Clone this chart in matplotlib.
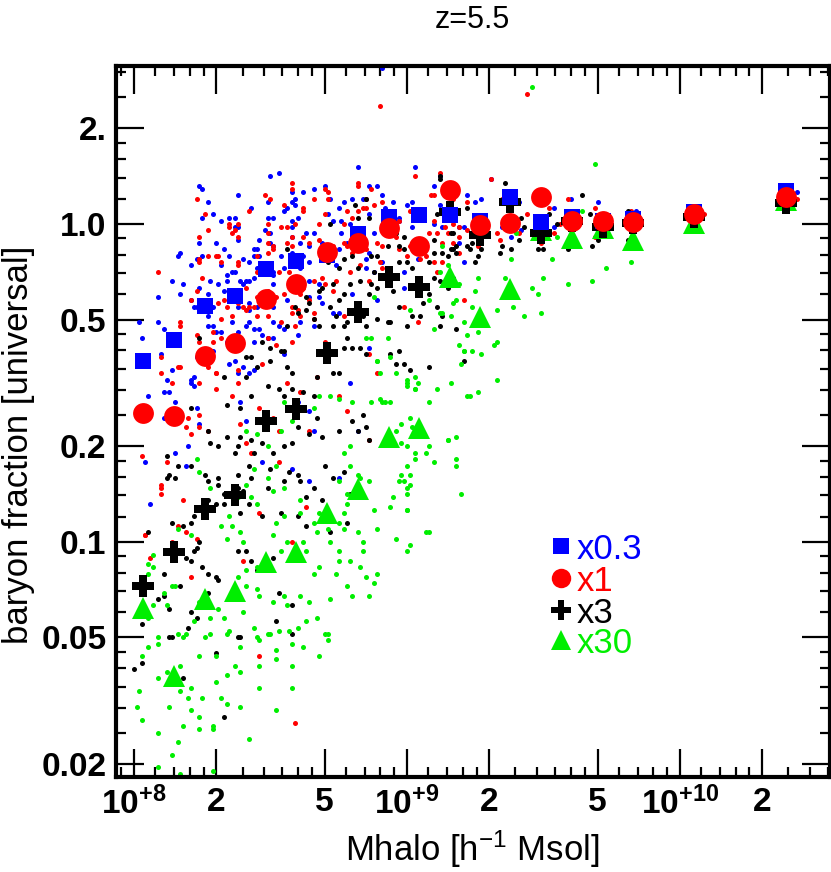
import numpy as np
import matplotlib
matplotlib.use("Agg")
import matplotlib.pyplot as plt
from matplotlib.ticker import FixedLocator, FixedFormatter, NullFormatter

FONT = "Liberation Sans"
plt.rcParams["font.family"] = [FONT, "DejaVu Sans"]
plt.rcParams["mathtext.fontset"] = "custom"
plt.rcParams["mathtext.rm"] = FONT
plt.rcParams["mathtext.bf"] = FONT + ":bold"
plt.rcParams["mathtext.it"] = FONT + ":italic"

# binned medians, shared halo-mass bins [h^-1 Msol]
mbin = [1.08e8, 1.40e8, 1.82e8, 2.34e8, 3.04e8, 3.94e8, 5.11e8, 6.62e8, 8.59e8,
        1.11e9, 1.44e9, 1.85e9, 2.38e9, 3.11e9, 4.03e9, 5.21e9, 6.71e9, 1.13e10, 2.44e10]
f_x03 = [0.371, 0.430, 0.553, 0.595, 0.722, 0.767, 0.799, 0.930, 1.054, 1.067,
         1.067, 1.022, 1.213, 1.012, 1.050, 1.022, 1.035, 1.093, 1.27]
f_x1 = [0.255, 0.248, 0.385, 0.421, 0.581, 0.646, 0.818, 0.870, 0.969, 0.855,
        1.279, 0.993, 1.005, 1.213, 1.024, 1.022, 1.017, 1.075, 1.213]
f_x3 = [0.0724, 0.0928, 0.1267, 0.1405, 0.2406, 0.262, 0.392, 0.528, 0.683, 0.635,
        1.093, 0.924, 1.175, 0.935, 1.020, 0.981, 1.005, 1.054, 1.162]
f_x30 = [0.0621, 0.0379, 0.0662, 0.0701, 0.0867, 0.0927, 0.1231, 0.1468, 0.2143, 0.2278,
         0.680, 0.511, 0.623, 0.957, 0.902, 0.969, 0.891, 1.005, 1.19]

# individual haloes: log10(Mhalo), log10(baryon fraction)
blue_logm = [8.24, 8.27, 8.38, 8.50, 8.53, 8.43, 8.29, 8.32, 8.37, 8.37, 8.24, 8.30, 8.17, 8.16,
             8.14, 8.21, 8.09, 8.02, 8.03, 8.11, 8.24, 8.28, 8.27, 8.34, 8.37, 8.40, 8.44, 8.40,
             8.51, 8.51, 8.50, 8.51, 8.49, 8.56, 8.58, 8.59, 8.62, 8.66, 8.72, 8.75, 8.66, 8.64,
             8.69, 8.61, 8.58, 8.54, 8.61, 8.64, 8.68, 8.58, 8.56, 8.51, 8.45, 8.42, 8.46, 8.41,
             8.36, 8.32, 8.38, 8.82, 8.76, 8.78, 8.81, 8.83, 8.91, 8.92, 8.92, 8.97, 9.03, 9.10,
             9.12, 9.10, 9.13, 9.19, 8.85, 8.88, 8.99, 8.99, 8.91, 8.68, 8.75, 8.80, 8.53, 8.61,
             8.66, 8.05, 8.11, 8.13, 8.21, 8.23, 8.37, 8.38, 8.41, 8.42, 8.47, 8.20, 8.15, 8.19,
             8.06, 8.04, 8.64, 8.60, 8.66, 8.58, 8.64, 8.75, 8.82, 8.79, 8.86, 8.55, 8.34, 9.31,
             9.60, 9.70, 9.84, 10.43, 9.22, 9.27, 9.41, 9.54, 9.19, 9.21, 9.35, 9.38, 9.42, 9.54,
             9.21, 9.25, 9.49, 8.91, 8.11, 8.15, 8.22, 8.24, 8.39, 8.58,
             8.70, 8.77, 8.80, 8.84, 8.86, 8.89, 8.95, 9.00, 9.02, 9.12, 8.60, 8.63, 8.71, 8.73,
             8.76, 8.79, 8.86, 8.88, 8.86, 8.97, 9.02, 8.62, 8.64, 8.74, 8.75, 8.85, 9.04, 8.64,
             8.69, 8.73, 8.89, 8.25, 8.49, 8.55, 8.58, 8.59, 8.25, 8.35, 8.38, 8.38, 8.46, 8.51,
             8.50, 8.48, 8.58, 8.58, 8.58, 8.33, 8.23, 8.25, 8.35, 8.42, 8.44, 8.45, 8.44, 8.46,
             8.32, 8.36, 8.18, 8.17, 8.31, 8.33, 8.34, 8.35, 8.39, 8.41, 8.42, 8.45, 8.51, 8.55,
             8.22, 8.21, 8.23, 8.29, 8.24, 8.27, 8.38, 8.42, 8.42, 8.44, 8.47, 8.49, 8.51, 8.55,
             8.60, 8.09, 8.27, 8.29, 8.30, 8.38, 8.44, 8.49, 8.51, 8.10, 8.23, 8.29, 8.35, 8.40,
             8.44, 8.22, 8.21, 8.12, 8.14]
blue_logf = [0.12, 0.07, 0.09, 0.15, 0.16, 0.05, 0.03, 0.01, 0.02, -0.01, -0.06, -0.06, -0.09, -0.10,
             -0.18, -0.13, -0.23, -0.31, -0.36, -0.33, -0.20, -0.18, -0.22, -0.16, -0.15, -0.11, -0.17, -0.19,
             -0.19, -0.15, -0.06, -0.07, 0.02, 0.05, 0.10, 0.06, 0.10, 0.11, 0.08, 0.05, -0.03, -0.07,
             -0.06, -0.06, -0.09, -0.10, -0.14, -0.18, -0.19, -0.17, -0.24, -0.26, -0.26, -0.25, -0.33, -0.32,
             -0.31, -0.34, -0.37, 0.18, -0.03, -0.06, -0.05, -0.07, 0.09, 0.05, 0.00, 0.02, 0.18, 0.12,
             0.06, 0.00, -0.01, -0.06, -0.14, -0.15, -0.20, -0.15, -0.12, -0.23, -0.28, -0.22, -0.32, -0.31,
             -0.32, -0.54, -0.61, -0.53, -0.50, -0.58, -0.43, -0.47, -0.62, -0.47, -0.75, -0.70, -0.72, -0.76,
             -0.88, -0.75, -0.59, -0.56, -0.65, -0.77, -0.81, -0.80, -0.65, -0.50, -0.39, -0.41, -0.37, 0.14,
             0.08, 0.07, 0.04, 0.10, 0.09, 0.08, 0.07, 0.05, -0.01, -0.01, -0.01, -0.04, -0.02, -0.01,
             -0.12, 0.07, -0.05, 0.49, -0.53, -0.56, -0.51, -0.63, -0.56, -0.58,
             0.12, 0.07, 0.08, 0.08, 0.12, 0.12, 0.07, 0.06, 0.07, 0.15, 0.02, -0.03, 0.03, 0.01,
             0.01, 0.00, 0.03, -0.03, -0.09, 0.01, -0.01, -0.10, -0.12, -0.13, -0.08, -0.11, -0.11, -0.23,
             -0.25, -0.28, -0.24, 0.11, 0.07, 0.04, 0.07, 0.08, 0.02, 0.02, -0.01, -0.05, -0.05, 0.02,
             -0.03, -0.02, 0.01, -0.01, -0.04, -0.08, -0.11, -0.10, -0.10, -0.12, -0.08, -0.08, -0.10, -0.10,
             -0.13, -0.15, -0.19, -0.22, -0.19, -0.21, -0.18, -0.23, -0.18, -0.18, -0.18, -0.14, -0.16, -0.14,
             -0.26, -0.24, -0.26, -0.26, -0.27, -0.29, -0.26, -0.27, -0.31, -0.33, -0.35, -0.36, -0.31, -0.33,
             -0.35, -0.31, -0.32, -0.32, -0.34, -0.34, -0.37, -0.36, -0.36, -0.41, -0.42, -0.40, -0.44, -0.45,
             -0.46, -0.48, -0.49, -0.49, -0.46]

red_logm = [8.90, 9.03, 9.12, 9.10, 8.23, 8.26, 8.27, 8.35, 8.38, 8.48, 8.50, 8.58, 8.58, 8.55,
            8.62, 8.62, 8.70, 8.71, 8.71, 8.82, 8.85, 8.84, 8.88, 8.77, 8.78, 8.82, 8.70, 8.68,
            8.49, 8.54, 8.56, 8.58, 8.64, 8.68, 8.51, 8.49, 8.36, 8.38, 8.24, 8.24, 8.30, 8.23,
            8.21, 8.17, 8.09, 8.28, 8.33, 8.38, 8.41, 8.38, 8.42, 8.45, 8.49, 8.54, 8.61, 8.66,
            8.61, 8.64, 8.73, 8.69, 8.78, 8.80, 8.83, 8.91, 8.95, 8.96, 9.01, 9.05, 8.99, 9.09,
            9.15, 9.19, 9.17, 9.10, 8.57, 8.53, 8.45, 8.29, 8.35, 8.24, 8.10, 8.14, 8.17, 8.20,
            8.19, 8.24, 8.21, 8.24, 8.27, 8.30, 8.36, 8.30, 8.38, 8.24, 8.39, 8.41, 8.46, 8.51,
            8.53, 8.56, 8.61, 8.64, 8.43, 8.53, 8.46, 8.18, 8.10, 8.10, 8.03, 8.04, 8.14, 8.16,
            8.19, 8.12, 8.63, 8.58, 8.23, 8.40, 8.21, 8.78, 8.86, 8.89, 8.75, 8.86, 8.67, 8.70,
            9.44, 9.31, 9.59, 9.69, 9.82, 10.09, 10.43, 9.17, 9.22, 9.19, 9.19, 9.14, 9.26, 9.33,
            9.34, 9.41, 9.44, 9.52, 9.54, 9.56, 9.70, 9.69, 9.71, 9.82, 9.59, 9.49, 9.21, 9.35,
            9.40, 9.22, 8.46, 8.59, 8.04, 8.06, 8.10,
            8.82, 8.66, 8.80, 8.85, 8.87, 8.91, 8.94, 8.97, 9.01, 9.08, 9.11, 9.13, 9.17, 8.59,
            8.62, 8.73, 8.77, 8.85, 8.89, 8.90, 8.97, 9.00, 9.07, 9.10, 9.11, 8.62, 8.66, 8.70,
            8.74, 8.79, 8.86, 8.91, 9.13, 8.60, 8.66, 8.77, 9.04,
            8.42, 8.35, 8.37, 8.49, 8.49, 8.51, 8.56, 8.58, 8.58, 8.24, 8.25, 8.27, 8.31, 8.32,
            8.38, 8.45, 8.31, 8.34, 8.36, 8.32, 8.40, 8.41, 8.44, 8.45, 8.49, 8.52, 8.55, 8.58,
            8.60, 8.17, 8.29, 8.23, 8.32, 8.49, 8.52, 8.58, 8.59, 8.58, 8.10, 8.16, 8.27, 8.30,
            8.38, 8.47]
red_logf = [0.37, 0.15, 0.16, 0.09, 0.08, 0.03, -0.02, 0.00, 0.00, 0.09, 0.08, 0.13, 0.11, 0.06,
            0.05, 0.04, 0.11, 0.10, 0.08, 0.12, 0.08, 0.05, 0.06, 0.00, 0.04, 0.04, 0.03, 0.00,
            -0.03, -0.01, -0.06, -0.04, -0.06, -0.05, -0.07, -0.09, -0.03, -0.04, -0.04, -0.11, -0.10, -0.21,
            -0.24, -0.32, -0.15, -0.26, -0.24, -0.12, -0.20, -0.25, -0.26, -0.29, -0.29, -0.31, -0.29, -0.28,
            -0.22, -0.24, -0.21, -0.17, -0.07, -0.09, -0.13, -0.07, -0.01, -0.04, -0.07, -0.11, -0.26, 0.09,
            -0.03, -0.01, 0.00, 0.01, -0.15, -0.15, -0.15, -0.34, -0.37, -0.37, -0.47, -0.50, -0.45, -0.61,
            -0.64, -0.64, -0.66, -0.60, -0.65, -0.52, -0.54, -0.47, -0.50, -0.50, -0.63, -0.69, -0.58, -0.61,
            -0.65, -0.50, -0.53, -0.65, -0.72, -0.75, -0.91, -0.87, -0.83, -0.85, -0.73, -0.98, -1.00, -0.95,
            -0.97, -0.75, -0.89, -1.00, -0.99, -1.06, -1.11, -0.59, -0.41, -0.47, -0.54, -0.68, -0.48, -0.37,
            0.41, 0.14, 0.08, 0.05, 0.04, 0.03, 0.08, 0.08, 0.07, -0.04, -0.09, -0.01, -0.07, -0.03,
            -0.05, -0.03, 0.03, 0.05, -0.03, 0.00, -0.01, -0.04, -0.03, -0.02, -0.06, -0.06, -0.24, 0.08,
            0.07, -0.02, -1.36, -1.57, -0.98, -1.05, -0.82,
            0.13, 0.08, 0.02, 0.05, 0.11, 0.07, 0.02, 0.01, 0.04, -0.03, -0.03, -0.06, -0.06, 0.00,
            -0.04, -0.07, -0.06, -0.08, -0.06, -0.12, -0.08, -0.10, -0.10, -0.12, -0.15, -0.20, -0.18, -0.19,
            -0.18, -0.15, -0.18, -0.14, -0.12, -0.27, -0.30, -0.29, -0.31,
            0.04, -0.01, -0.02, 0.00, -0.06, -0.08, -0.01, -0.07, -0.11, -0.12, -0.17, -0.10, -0.10, -0.12,
            -0.13, -0.10, -0.25, -0.26, -0.29, -0.30, -0.26, -0.27, -0.26, -0.23, -0.21, -0.23, -0.22, -0.26,
            -0.21, -0.31, -0.37, -0.35, -0.36, -0.36, -0.38, -0.37, -0.32, -0.28, -0.42, -0.45, -0.45, -0.47,
            -0.46, -0.44]

black_logm = [9.08, 8.96, 8.99, 9.01, 8.94, 8.83, 8.80, 8.77, 8.75, 8.73, 8.67, 8.58, 8.56, 8.50,
              8.54, 8.45, 8.41, 8.33, 8.34, 8.39, 8.43, 8.49, 8.53, 8.55, 8.58, 8.62, 8.66, 8.67,
              8.75, 8.80, 8.85, 8.82, 8.86, 8.84, 8.69, 8.64, 8.60, 8.58, 8.55, 8.51, 8.47, 8.44,
              8.43, 8.39, 8.38, 8.37, 8.34, 8.31, 8.27, 8.28, 8.21, 8.12, 8.13, 8.15, 8.16, 8.21,
              8.26, 8.27, 8.31, 8.31, 8.33, 8.38, 8.38, 8.42, 8.43, 8.49, 8.50, 8.55, 8.57, 8.60,
              8.63, 8.61, 8.66, 8.69, 8.70, 8.73, 8.77, 8.79, 8.78, 8.72, 8.63, 8.60, 8.54, 8.47,
              8.42, 8.40, 8.39, 8.33, 8.30, 8.27, 8.22, 8.21, 8.18, 8.14, 8.23, 8.24, 8.22, 8.19,
              8.21, 8.25, 8.27, 8.30, 8.31, 8.27, 8.17, 8.11, 8.09, 8.11, 8.21, 8.23, 8.38, 8.41,
              8.43, 8.45, 8.51, 8.53, 8.58, 8.58, 8.39, 8.52, 8.05, 8.03, 8.14, 8.12, 8.13, 8.20,
              8.30, 8.38, 8.03, 8.00, 8.18, 8.33, 8.13, 9.12, 8.85, 8.81, 8.86, 8.72, 8.56, 8.43,
              8.71, 8.75, 8.80, 8.89, 8.93, 8.96, 8.97, 9.00, 9.10, 9.17, 9.17, 9.10, 9.08, 9.02,
              8.97, 8.85, 8.78, 8.78, 8.75, 8.73, 8.68, 8.66, 8.68, 8.63, 8.63, 8.60, 8.56, 8.55,
              8.50, 8.47, 8.41, 8.97, 8.93, 8.89, 8.24, 9.16, 9.11, 9.08, 9.12, 9.15, 9.36, 9.64,
              9.12, 9.13, 9.16, 9.18, 9.22, 9.22, 9.24, 9.25, 9.26, 9.27, 9.23, 9.34, 9.35, 9.38,
              9.41, 9.42, 9.43, 9.48, 9.50, 9.52, 9.55, 9.59, 9.67, 9.68, 9.70, 9.81, 9.81, 9.83,
              9.18, 9.21,
              8.82, 8.91, 8.99, 9.05, 9.10, 9.18, 9.15, 8.87, 8.99, 8.77, 8.82, 8.88, 8.87, 8.97,
              9.02, 9.12, 9.17, 9.06, 9.11, 9.05, 8.95, 8.89, 8.86, 8.83, 8.79, 8.77, 8.69, 8.64,
              8.72, 8.74, 8.82, 8.84, 8.94, 9.00, 9.13, 8.59, 8.73, 8.77, 8.85]
black_logf = [-0.45, -0.44, -0.44, -0.46, -0.41, -0.39, -0.39, -0.39, -0.47, -0.47, -0.48, -0.47, -0.45, -0.43,
              -0.40, -0.45, -0.48, -0.48, -0.57, -0.58, -0.54, -0.51, -0.52, -0.54, -0.52, -0.53, -0.54, -0.61,
              -0.65, -0.62, -0.64, -0.65, -0.68, -0.60, -0.67, -0.66, -0.64, -0.69, -0.70, -0.72, -0.69, -0.72,
              -0.68, -0.67, -0.70, -0.72, -0.67, -0.70, -0.65, -0.69, -0.58, -0.73, -0.79, -0.80, -0.76, -0.76,
              -0.79, -0.81, -0.80, -0.82, -0.85, -0.79, -0.83, -0.76, -0.80, -0.83, -0.77, -0.81, -0.78, -0.79,
              -0.86, -0.81, -0.83, -0.87, -0.76, -0.80, -0.78, -0.85, -0.94, -0.97, -0.95, -0.92, -0.91, -0.92,
              -0.88, -0.84, -0.91, -0.88, -0.88, -0.87, -0.92, -0.94, -0.95, -0.94, -1.02, -1.00, -1.03, -1.05,
              -1.06, -1.08, -1.10, -1.11, -1.12, -1.16, -1.14, -1.10, -1.18, -1.17, -1.22, -1.24, -1.03, -1.03,
              -1.06, -1.09, -1.05, -1.16, -1.20, -1.29, -1.30, -1.25, -0.97, -1.26, -1.30, -0.80, -1.30, -1.27,
              -1.35, -1.30, -1.38, -1.40, -1.43, -1.55, -1.21, 0.14, 0.08, 0.06, 0.02, 0.00, -0.08, -0.42,
              -0.12, -0.14, -0.10, -0.10, -0.07, -0.03, -0.07, -0.12, -0.09, -0.03, -0.08, -0.17, -0.12, -0.29,
              -0.40, -0.41, -0.36, -0.31, -0.24, -0.19, -0.21, -0.30, -0.32, -0.23, -0.27, -0.28, -0.32, -0.40,
              -0.39, -0.37, -0.42, -0.26, -0.31, -0.30, -0.36, -0.03, 0.03, -0.22, -0.32, -0.20, 0.13, 0.09,
              0.15, -0.09, -0.08, -0.07, 0.05, -0.07, -0.06, -0.12, -0.10, -0.08, -0.08, -0.09, -0.07, -0.08,
              -0.05, 0.02, -0.01, -0.08, -0.08, 0.03, 0.00, -0.08, 0.03, -0.07, -0.05, 0.04, -0.05, -0.04,
              -0.33, -0.43,
              0.02, -0.01, -0.04, -0.08, -0.05, -0.09, -0.10, -0.10, -0.08, -0.11, -0.14, -0.15, -0.19, -0.12,
              -0.14, -0.18, -0.17, -0.25, -0.26, -0.29, -0.21, -0.20, -0.22, -0.18, -0.19, -0.22, -0.20, -0.25,
              -0.26, -0.29, -0.26, -0.29, -0.31, -0.32, -0.29, -0.26, -0.32, -0.32, -0.32]

green_logm = [9.16, 9.11, 9.08, 9.03, 9.00, 8.91, 8.94, 8.87, 8.80, 8.72, 8.68, 8.66, 8.55, 8.58,
              8.54, 8.49, 8.41, 8.45, 8.89, 8.90, 8.94, 9.00, 9.04, 8.75, 9.02, 9.15, 9.18, 9.18,
              9.10, 9.08, 9.00, 8.98, 9.03, 9.00, 8.98, 9.01, 8.97, 9.00, 8.95, 8.94, 8.88, 8.89,
              8.96, 9.00, 9.08, 9.00, 8.86, 8.83, 8.82, 8.79, 8.79, 8.77, 8.75, 8.78, 8.78, 8.77,
              8.75, 8.77, 8.82, 8.84, 8.84, 8.83, 8.79, 8.75, 8.75, 8.72, 8.71, 8.67, 8.66, 8.68,
              8.61, 8.55, 8.52, 8.51, 8.56, 8.54, 8.62, 8.63, 8.68, 8.66, 8.74, 8.78, 8.80, 8.85,
              8.89, 8.88, 8.86, 8.72, 8.64, 8.61, 8.55, 8.56, 8.51, 8.46, 8.45, 8.41, 8.38, 8.41,
              8.45, 8.40, 8.39, 8.36, 8.34, 8.32, 8.35, 8.38, 8.43, 8.45, 8.51, 8.55, 8.61, 8.49,
              8.52, 8.44, 8.41, 8.24, 8.23, 8.28, 8.21, 8.16, 8.14, 8.12, 8.11, 8.15, 8.24, 8.28,
              8.31, 8.22, 8.09, 8.16, 8.18, 8.28, 8.33, 8.40, 8.44, 8.49, 8.53, 8.60, 8.63, 8.71,
              8.67, 8.45, 8.35, 8.07, 8.05, 8.07, 8.05, 8.02, 8.01, 8.03, 8.09, 8.16, 8.14, 8.09,
              8.17, 8.29, 8.18, 8.24, 8.29, 8.21, 8.13, 8.20, 8.25, 8.32, 8.34, 8.39, 8.42, 8.52,
              8.46, 8.58, 8.58, 8.52, 8.46, 8.39, 8.34, 8.30, 8.21, 8.17, 8.09, 8.12, 8.17, 8.24,
              8.30, 8.37, 8.39, 8.46, 8.52, 8.58, 8.62, 8.68, 8.71, 8.70, 8.57, 8.50, 8.34, 8.26,
              8.19, 8.05, 8.03, 8.09, 8.29, 8.24, 9.01, 9.12, 9.17, 9.10, 9.16, 9.21, 9.22, 9.19,
              9.21, 9.20, 9.03, 9.00, 9.03, 8.96, 8.89, 8.85, 8.87, 8.93, 9.22, 9.18, 9.20, 9.07,
              9.03, 8.99, 9.01, 9.00, 9.00, 9.07, 9.01, 8.98, 8.96, 9.01, 8.90, 8.92, 9.46, 9.69,
              9.73, 9.82, 9.68, 9.59, 9.53, 9.50, 9.48, 9.49, 9.46, 9.43, 9.39, 9.38, 9.36, 9.33,
              9.32, 9.33, 9.26, 9.25, 9.24, 9.26, 9.27, 9.24, 9.21, 9.18, 9.19, 9.15, 9.12, 9.13,
              9.13, 9.55, 9.64, 9.40, 9.33, 9.23, 9.26, 9.15, 8.88, 9.08, 8.05, 8.07]
green_logf = [-0.50, -0.52, -0.56, -0.52, -0.51, -0.56, -0.56, -0.56, -0.56, -0.54, -0.54, -0.58, -0.56, -0.62,
              -0.65, -0.70, -0.65, -0.66, -0.43, -0.47, -0.42, -0.49, -0.50, -0.55, -0.64, -0.68, -0.74, -0.76,
              -0.75, -0.70, -0.70, -0.69, -0.72, -0.76, -0.79, -0.79, -0.81, -0.83, -0.86, -0.89, -0.90, -0.96,
              -0.99, -1.03, -0.97, -0.90, -0.81, -0.80, -0.79, -0.76, -0.70, -0.72, -0.81, -0.85, -0.88, -0.91,
              -0.94, -0.96, -0.97, -1.00, -1.03, -1.08, -1.06, -1.03, -1.06, -1.00, -0.96, -0.97, -0.94, -0.91,
              -0.91, -0.92, -0.94, -0.98, -1.00, -1.03, -1.00, -1.03, -1.08, -1.10, -1.10, -1.14, -1.17, -1.11,
              -1.10, -1.13, -1.17, -1.18, -1.19, -1.17, -1.17, -1.20, -1.19, -1.17, -1.15, -1.14, -1.11, -1.09,
              -1.08, -1.00, -0.97, -0.95, -0.99, -0.95, -0.92, -0.86, -0.86, -0.88, -0.84, -0.83, -0.87, -0.80,
              -0.76, -0.77, -0.82, -0.78, -0.74, -0.83, -0.98, -0.96, -1.14, -1.20, -1.16, -1.14, -1.19, -1.24,
              -1.21, -1.25, -1.30, -1.29, -1.30, -1.29, -1.24, -1.22, -1.27, -1.29, -1.28, -1.27, -1.25, -1.29,
              -1.24, -1.30, -1.28, -1.08, -1.10, -1.20, -1.24, -1.47, -1.52, -1.56, -1.60, -1.63, -1.67, -1.71,
              -1.73, -1.72, -1.58, -1.55, -1.58, -1.53, -1.52, -1.49, -1.49, -1.49, -1.51, -1.52, -1.62, -1.53,
              -1.46, -1.46, -1.39, -1.37, -1.39, -1.41, -1.42, -1.44, -1.46, -1.47, -1.43, -1.41, -1.39, -1.36,
              -1.36, -1.39, -1.33, -1.31, -1.34, -1.32, -1.33, -1.36, -1.31, -1.29, -1.28, -1.29, -1.29, -1.30,
              -1.29, -1.33, -1.36, -1.32, -1.59, -1.59, -0.27, -0.28, -0.25, -0.33, -0.29, -0.31, -0.35, -0.38,
              -0.40, -0.44, -0.52, -0.50, -0.48, -0.47, -0.43, -0.36, -0.36, -0.36, -0.54, -0.67, -0.85, -0.72,
              -0.74, -0.81, -0.82, -0.85, -0.90, -0.97, -1.01, -0.63, -0.65, -0.61, -0.55, -0.56, 0.43, 0.19,
              -0.14, -0.12, -0.18, -0.19, -0.11, -0.17, -0.22, -0.28, -0.20, -0.29, -0.26, -0.11, -0.17, -0.27,
              -0.38, -0.37, -0.17, -0.21, -0.26, -0.34, -0.41, -0.40, -0.40, -0.24, -0.19, -0.13, -0.15, -0.28,
              -0.07, -0.04, 0.04, -0.03, -0.49, -0.54, -0.53, -0.68, -0.23, -0.24, -1.07, -1.04]

series = [
    ("x0.3", "#0000ff", blue_logm, blue_logf, f_x03, "s", 12),
    ("x1", "#ff0000", red_logm, red_logf, f_x1, "o", 15),
    ("x3", "#000000", black_logm, black_logf, f_x3, "P", 16),
    ("x30", "#00ee00", green_logm, green_logf, f_x30, "^", 16),
]

fig = plt.figure(figsize=(8.31, 8.72), dpi=100)
ax = fig.add_axes([116 / 831, 1 - 777 / 872, 714 / 831, 711 / 872])
ax.set_xscale("log")
ax.set_yscale("log")

for label, col, lm, lf, fmed, mk, ms in series:
    ax.scatter(10 ** np.array(lm), 10 ** np.array(lf), s=13, color=col, linewidths=0, zorder=2)

# medians: green at the bottom, red circles on top
zorder = {"x30": 3, "x3": 4, "x0.3": 5, "x1": 6}
for label, col, lm, lf, fmed, mk, ms in series:
    ax.plot(mbin, fmed, ls="none", marker=mk, ms=ms, color=col,
            markeredgewidth=0, zorder=zorder[label])

ax.set_xlim(8.6e7, 3.55e10)
ax.set_ylim(0.0182, 3.14)

xmaj = [1e8, 2e8, 5e8, 1e9, 2e9, 5e9, 1e10, 2e10]
xmaj_lab = [r"$\mathbf{10^{+8}}$", "2", "5", r"$\mathbf{10^{+9}}$", "2", "5",
            r"$\mathbf{10^{+10}}$", "2"]
ymaj = [0.02, 0.05, 0.1, 0.2, 0.5, 1.0, 2.0]
ymaj_lab = ["0.02", "0.05", "0.1", "0.2", "0.5", "1.0", "2."]
subs = [1.2, 1.4, 1.6, 1.8, 2.5, 3, 3.5, 4, 4.5, 6, 7, 8, 9]
xmin_t = [s * 10 ** e for e in (7, 8, 9, 10) for s in subs]
ymin_t = [s * 10 ** e for e in (-2, -1, 0) for s in subs]

ax.xaxis.set_major_locator(FixedLocator(xmaj))
ax.xaxis.set_major_formatter(FixedFormatter(xmaj_lab))
ax.xaxis.set_minor_locator(FixedLocator(xmin_t))
ax.xaxis.set_minor_formatter(NullFormatter())
ax.yaxis.set_major_locator(FixedLocator(ymaj))
ax.yaxis.set_major_formatter(FixedFormatter(ymaj_lab))
ax.yaxis.set_minor_locator(FixedLocator(ymin_t))
ax.yaxis.set_minor_formatter(NullFormatter())

ax.tick_params(which="both", direction="in", top=True, right=True, width=1.6)
ax.tick_params(which="major", length=20, labelsize=24, pad=7)
ax.tick_params(which="minor", length=7)
for t in ax.get_xticklabels() + ax.get_yticklabels():
    t.set_fontweight("bold")
for sp in ax.spines.values():
    sp.set_linewidth(3)

ax.set_xlabel(r"Mhalo [h$^{-1}$ Msol]", fontsize=25)
ax.xaxis.set_label_coords(0.4986, -0.072)
ax.set_ylabel("baryon fraction [universal]", fontsize=25)
ax.yaxis.set_label_coords(-0.114, 0.467)
fig.text(472 / 831, 1 - 20 / 872, "z=5.5", ha="center", va="center", fontsize=22)

# legend: marker + coloured label, one row per feedback factor
leg_y = [0.325, 0.280, 0.235, 0.193]
leg_ms = {"x0.3": 11, "x1": 14, "x3": 15, "x30": 15}
for (label, col, lm, lf, fmed, mk, ms), yy in zip(series, leg_y):
    ax.plot([0.623], [yy], transform=ax.transAxes, ls="none", marker=mk,
            ms=leg_ms[label], color=col, markeredgewidth=0, clip_on=False)
    ax.text(0.645, yy, label, transform=ax.transAxes, color=col, fontsize=25,
            ha="left", va="center_baseline")

fig.savefig("out.png", dpi=100)
